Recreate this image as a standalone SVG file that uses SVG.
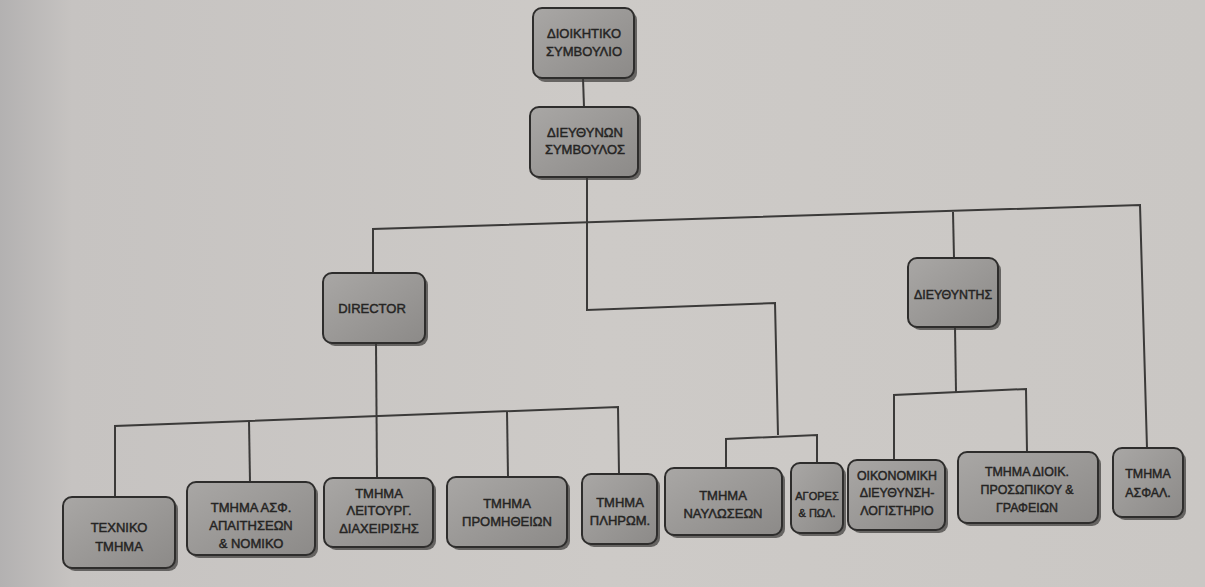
<svg xmlns="http://www.w3.org/2000/svg" width="1205" height="587" viewBox="0 0 1205 587">
<style>
.box{fill:url(#bf);stroke:#2e2d2c;stroke-width:2}
.sh{fill:#3a3938;opacity:0.7}
.t{font-family:"Liberation Sans",Arial,sans-serif;font-size:13px;fill:#252423;stroke:#252423;stroke-width:0.45;text-anchor:middle}
.s{font-size:12.4px}
.xs{font-size:11px}
.ln{fill:none;stroke:#3b3a39;stroke-width:2}
</style>
<defs>
<linearGradient id="bg" x1="0" y1="0" x2="1" y2="0">
<stop offset="0" stop-color="#b3b1b1"/>
<stop offset="0.06" stop-color="#c6c3c1"/>
<stop offset="0.5" stop-color="#cdcac7"/>
<stop offset="1" stop-color="#cac7c4"/>
</linearGradient>
<linearGradient id="bf" x1="0" y1="0" x2="1" y2="1">
<stop offset="0" stop-color="#a9a7a5"/>
<stop offset="1" stop-color="#8c8a88"/>
</linearGradient>
</defs>
<rect x="0" y="0" width="1205" height="587" fill="url(#bg)"/>

<g id="connectors">
<path class="ln" d="M583 78 L584 107"/>
<path class="ln" d="M587 177 L587 310 L775 303 L778 435"/>
<path class="ln" d="M373 273 L373 229 L1140 205 L1147 448"/>
<path class="ln" d="M953 212 L954 258"/>
<path class="ln" d="M376 343 L377 478"/>
<path class="ln" d="M115 497 L115 426 L618 407 L619 474"/>
<path class="ln" d="M249 421 L250 482"/>
<path class="ln" d="M507 411 L508 477"/>
<path class="ln" d="M726 468 L726 439 L817 435 L817 463"/>
<path class="ln" d="M955 327 L956 392"/>
<path class="ln" d="M894 460 L894 395 L1026 389 L1027 452"/>
</g>

<g id="n-dioikitiko">
<rect class="sh" x="536" y="11" width="101" height="71" rx="9"/>
<rect class="box" x="533" y="8" width="101" height="70" rx="9"/>
<text class="t" x="584" y="38">ΔΙΟΙΚΗΤΙΚΟ</text>
<text class="t" x="584" y="56">ΣΥΜΒΟΥΛΙΟ</text>
</g>
<g id="n-ceo">
<rect class="sh" x="533" y="110" width="108" height="70" rx="9"/>
<rect class="box" x="530" y="107" width="108" height="70" rx="9"/>
<text class="t" x="585" y="137">ΔΙΕΥΘΥΝΩΝ</text>
<text class="t" x="585" y="154">ΣΥΜΒΟΥΛΟΣ</text>
</g>
<g id="n-director">
<rect class="sh" x="326" y="276" width="102" height="70" rx="9"/>
<rect class="box" x="323" y="273" width="102" height="70" rx="9"/>
<text class="t" x="372" y="313">DIRECTOR</text>
</g>
<g id="n-dieythyntis">
<rect class="sh" x="911" y="261" width="90" height="69" rx="9"/>
<rect class="box" x="908" y="258" width="90" height="69" rx="9"/>
<text class="t s" x="953" y="299">ΔΙΕΥΘΥΝΤΗΣ</text>
</g>
<g id="n-texniko">
<rect class="sh" x="66" y="500" width="112" height="71" rx="9"/>
<rect class="box" x="63" y="497" width="112" height="71" rx="9"/>
<text class="t" x="119" y="532">ΤΕΧΝΙΚΟ</text>
<text class="t" x="119" y="551">ΤΜΗΜΑ</text>
</g>
<g id="n-asf-apaitiseon">
<rect class="sh" x="190" y="485" width="128" height="73" rx="9"/>
<rect class="box" x="187" y="482" width="128" height="73" rx="9"/>
<text class="t" x="251" y="512">ΤΜΗΜΑ ΑΣΦ.</text>
<text class="t" x="251" y="530">ΑΠΑΙΤΗΣΕΩΝ</text>
<text class="t" x="251" y="548">&amp; ΝΟΜΙΚΟ</text>
</g>
<g id="n-leitourg">
<rect class="sh" x="327" y="481" width="109" height="69" rx="9"/>
<rect class="box" x="324" y="478" width="109" height="69" rx="9"/>
<text class="t" x="379" y="498">ΤΜΗΜΑ</text>
<text class="t" x="379" y="515">ΛΕΙΤΟΥΡΓ.</text>
<text class="t" x="379" y="533">ΔΙΑΧΕΙΡΙΣΗΣ</text>
</g>
<g id="n-promitheion">
<rect class="sh" x="450" y="480" width="120" height="70" rx="9"/>
<rect class="box" x="447" y="477" width="120" height="70" rx="9"/>
<text class="t" x="507" y="508">ΤΜΗΜΑ</text>
<text class="t" x="507" y="526">ΠΡΟΜΗΘΕΙΩΝ</text>
</g>
<g id="n-pliromon">
<rect class="sh" x="585" y="477" width="75" height="70" rx="9"/>
<rect class="box" x="582" y="474" width="75" height="70" rx="9"/>
<text class="t" x="620" y="507">ΤΜΗΜΑ</text>
<text class="t" x="620" y="525">ΠΛΗΡΩΜ.</text>
</g>
<g id="n-nayloseon">
<rect class="sh" x="668" y="471" width="117" height="67" rx="9"/>
<rect class="box" x="665" y="468" width="117" height="67" rx="9"/>
<text class="t" x="723" y="500">ΤΜΗΜΑ</text>
<text class="t" x="723" y="518">ΝΑΥΛΩΣΕΩΝ</text>
</g>
<g id="n-agores">
<rect class="sh" x="794" y="466" width="52" height="70" rx="9"/>
<rect class="box" x="791" y="463" width="52" height="70" rx="9"/>
<text class="t xs" x="817" y="500">ΑΓΟΡΕΣ</text>
<text class="t xs" x="817" y="517">&amp; ΠΩΛ.</text>
</g>
<g id="n-oikonomiki">
<rect class="sh" x="851" y="463" width="97" height="70" rx="9"/>
<rect class="box" x="848" y="460" width="97" height="70" rx="9"/>
<text class="t s" x="897" y="480">ΟΙΚΟΝΟΜΙΚΗ</text>
<text class="t s" x="897" y="497">ΔΙΕΥΘΥΝΣΗ-</text>
<text class="t s" x="897" y="515">ΛΟΓΙΣΤΗΡΙΟ</text>
</g>
<g id="n-dioik-prosopikou">
<rect class="sh" x="961" y="455" width="140" height="71" rx="9"/>
<rect class="box" x="958" y="452" width="140" height="71" rx="9"/>
<text class="t s" x="1027" y="476">ΤΜΗΜΑ ΔΙΟΙΚ.</text>
<text class="t s" x="1027" y="494">ΠΡΟΣΩΠΙΚΟΥ &amp;</text>
<text class="t s" x="1027" y="512">ΓΡΑΦΕΙΩΝ</text>
</g>
<g id="n-asfal">
<rect class="sh" x="1116" y="451" width="70" height="69" rx="9"/>
<rect class="box" x="1113" y="448" width="70" height="69" rx="9"/>
<text class="t s" x="1148" y="478">ΤΜΗΜΑ</text>
<text class="t s" x="1148" y="497">ΑΣΦΑΛ.</text>
</g>
</svg>
